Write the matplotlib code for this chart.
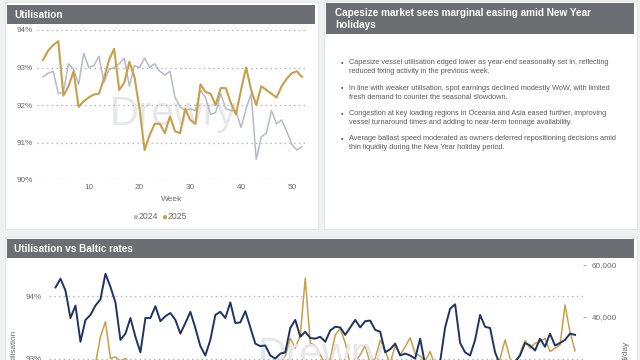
"""Capesize utilisation dashboard snapshot."""

import matplotlib

matplotlib.use("Agg")
import matplotlib.pyplot as plt
from matplotlib.patches import Rectangle
from matplotlib.ticker import FuncFormatter

W, H = 640, 360

# top-left panel: weekly utilisation (%)
weeks = list(range(1, 53))
util_2024 = [
    92.75, 92.85, 92.9, 92.3, 92.35, 93.1, 92.95, 92.55, 93.38, 93.0,
    93.05, 93.3, 92.6, 92.95, 93.0, 93.1, 93.25, 92.5, 93.05, 93.0,
    93.25, 93.0, 93.1, 92.9, 92.8, 92.9, 92.2, 91.95, 91.85, 91.9,
    91.85, 92.4, 92.2, 91.75, 91.8, 92.3, 91.9, 91.85, 91.85, 91.4,
    91.9, 92.3, 90.55, 91.15, 91.25, 91.85, 91.5, 91.6, 91.3, 90.95,
    90.8, 90.88,
]
util_2025 = [
    93.2, 93.45, 93.6, 93.7, 92.25, 92.5, 92.9, 91.95, 92.1, 92.2,
    92.28, 92.3, 92.7, 93.2, 93.5, 92.4, 92.6, 93.15, 92.75, 91.9,
    90.8, 91.2, 91.5, 91.5, 91.25, 91.7, 91.3, 91.25, 91.9, 91.6,
    91.5, 92.55, 92.35, 92.3, 92.0, 92.45, 92.45, 92.05, 91.75, 92.4,
    93.0, 92.4, 92.0, 92.5, 92.4, 92.3, 92.2, 92.5, 92.7, 92.85,
    92.9, 92.75,
]
util_ticks = [90, 91, 92, 93, 94]
week_ticks = [10, 20, 30, 40, 50]

# top-right panel: commentary
headline = "Capesize market sees marginal easing amid New Year\nholidays"
bullets = [
    "Capesize vessel utilisation edged lower as year-end seasonality set in, reflecting\n"
    "reduced fixing activity in the previous week.",
    "In line with weaker utilisation, spot earnings declined modestly WoW, with limited\n"
    "fresh demand to counter the seasonal slowdown.",
    "Congestion at key loading regions in Oceania and Asia eased further, improving\n"
    "vessel turnaround times and adding to near-term tonnage availability.",
    "Average ballast speed moderated as owners deferred repositioning decisions amid\n"
    "thin liquidity during the New Year holiday period.",
]

# bottom panel: utilisation (%) vs Baltic rates ($/day), one point per period
util_long = [
    94.14, 94.28, 94.09, 93.65, 93.85, 93.27, 93.62, 93.7, 93.85, 93.95,
    94.36, 94.15, 93.9, 93.3, 93.4, 93.65, 93.35, 93.1, 93.65, 93.65,
    93.84, 93.6, 93.68, 93.73, 93.62, 93.4, 93.57, 93.75, 93.49, 93.2,
    93.05, 93.3, 93.7, 93.75, 93.65, 93.9, 93.57, 93.58, 93.76, 93.5,
    93.24, 93.2, 93.21, 93.05, 93.0, 93.08, 93.1, 93.49, 93.62, 93.35,
    93.43, 93.33, 93.32, 93.35, 93.27, 93.45, 93.51, 93.5, 93.38, 93.5,
    93.62, 93.5, 93.6, 93.61, 93.46, 93.43, 93.1, 93.15, 93.24, 93.05,
    93.08, 93.05, 93.0, 93.32, 92.9, 92.85, 92.9, 92.95, 93.5, 93.8,
    93.87, 93.25, 93.1, 93.05, 93.3, 93.7, 93.51, 93.49, 93.1, 92.9,
    92.85, 92.9, 92.95, 93.05, 93.25, 93.21, 93.13, 93.32, 93.19, 93.4,
    93.21, 93.25, 93.3, 93.4, 93.38,
]
baltic_rate = [
    15000, 14000, 16000, 15000, 13000, 14000, 17000, 19000, 22000, 32400,
    38200, 24000, 24700, 23000, 24100, 22000, 20000, 18000, 16000, 14000,
    15000, 13000, 14000, 12000, 13000, 15000, 14000, 16000, 15000, 17000,
    16000, 18000, 17000, 19000, 18000, 20000, 19000, 21000, 20000, 22000,
    20000, 21000, 22000, 20000, 22000, 23000, 25000, 31800, 28000, 33000,
    54900, 30000, 29000, 25400, 22000, 24000, 33000, 35600, 30000, 22000,
    23000, 25400, 29000, 22000, 24000, 31000, 27000, 22000, 29200, 25400,
    28600, 32000, 26000, 25000, 23000, 26700, 21000, 19000, 20000, 18000,
    19000, 17000, 18000, 20000, 19000, 21000, 20000, 22000, 21000, 24000,
    31200, 24000, 21000, 26000, 31000, 28000, 29900, 30500, 31800, 26700,
    28000, 29200, 44600, 34300, 27000,
]
periods = list(range(len(util_long)))
util_long_ticks = [92, 93, 94]
rate_ticks = [20000, 40000, 60000]

GOLD = "#c6a04c"
GREY = "#b5bbc4"
NAVY = "#1e3462"
HEADER = "#6b6f73"
TEXT = "#6a6a6a"
GRID = dict(color="#b5b5b5", linestyle=(0, (1.2, 2.6)), linewidth=0.9)
FONT = ["Liberation Sans", "DejaVu Sans"]

plt.rcParams["font.family"] = FONT


def box(x0, y0, x1, y1):
    """Pixel box (top-left origin) to figure fractions."""
    return [x0 / W, 1 - y1 / H, (x1 - x0) / W, (y1 - y0) / H]


def panel(fig, x0, y0, x1, y1, hx0, hy0, hx1, hy1):
    l, b, w, h = box(x0, y0, x1, y1)
    fig.patches.append(Rectangle((l, b), w, h, transform=fig.transFigure,
                                 facecolor="white", edgecolor="#e2e4e7", linewidth=0.8, zorder=-3))
    l, b, w, h = box(hx0, hy0, hx1, hy1)
    fig.patches.append(Rectangle((l, b), w, h, transform=fig.transFigure,
                                 facecolor=HEADER, edgecolor="none", zorder=-2))


fig = plt.figure(figsize=(W / 100, H / 100), dpi=100, facecolor="#eff1f3")

panel(fig, 5, 2, 318, 229, 7, 5, 315, 24)
panel(fig, 324, 1, 637, 229, 326, 3, 634, 34)
panel(fig, 5, 237, 637, 380, 7, 239, 634, 258)

fig.text(14 / W, 1 - 14.5 / H, "Utilisation", color="white", fontsize=7.2,
         fontweight="bold", va="center")
fig.text(335 / W, 1 - 18.5 / H, headline, color="white", fontsize=7.2,
         fontweight="bold", va="center", linespacing=1.25)
fig.text(14 / W, 1 - 249 / H, "Utilisation vs Baltic rates", color="white", fontsize=7.2,
         fontweight="bold", va="center")

# commentary bullets
for i, item in enumerate(bullets):
    y = 63.5 + i * 25.3
    fig.text(341 / W, 1 - y / H, "\u2022", color="#555555", fontsize=5.2, va="center")
    fig.text(349 / W, 1 - (y - 4.2) / H, item, color="#5a5a5a", fontsize=5.3,
             va="top", linespacing=1.42)

# top-left chart
ax = fig.add_axes(box(37, 30, 307, 180))
ax.set_facecolor("none")
ax.text(0.27, 0.44, "Drewry", transform=ax.transAxes, fontsize=29, color="#e6e7e9",
        ha="left", va="center", zorder=0)
ax.plot(weeks, util_2024, color=GREY, linewidth=1.1, zorder=2)
ax.plot(weeks, util_2025, color=GOLD, linewidth=1.5, zorder=3)
ax.set_xlim(-0.2, 53)
ax.set_ylim(util_ticks[0], util_ticks[-1])
ax.set_yticks(util_ticks)
ax.yaxis.set_major_formatter(FuncFormatter(lambda v, _: f"{v:.0f}%"))
ax.set_xticks(week_ticks)
ax.tick_params(length=0, labelsize=5.9, labelcolor=TEXT, pad=3)
ax.grid(axis="y", **GRID)
for s in ax.spines.values():
    s.set_visible(False)
ax.set_xlabel("Week", fontsize=6, color=TEXT, labelpad=3.5)

fig.text(135 / W, 1 - 216.5 / H, "\u25cf", color=GREY, fontsize=7, va="center", ha="center")
fig.text(139 / W, 1 - 216.5 / H, "2024", color=TEXT, fontsize=6.2, va="center")
fig.text(164 / W, 1 - 216.5 / H, "\u25cf", color=GOLD, fontsize=7, va="center", ha="center")
fig.text(168 / W, 1 - 216.5 / H, "2025", color=TEXT, fontsize=6.2, va="center")

# bottom chart
axb = fig.add_axes(box(49, 265, 583, 421))
axb.set_facecolor("none")
axb.text(0.39, 0.42, "Drewry", transform=axb.transAxes, fontsize=29, color="#e6e7e9",
         ha="left", va="center", zorder=0)
axb.plot(periods, util_long, color=NAVY, linewidth=1.4, zorder=3)
axb.set_xlim(-1.3, len(periods) + 0.6)
axb.set_ylim(92, 94.5)
axb.set_yticks(util_long_ticks)
axb.yaxis.set_major_formatter(FuncFormatter(lambda v, _: f"{v:.0f}%"))
axb.set_xticks([])
axb.tick_params(length=0, labelsize=5.9, labelcolor=TEXT, pad=5)
axb.grid(axis="y", **GRID)
axb.set_ylabel("Utilisation", fontsize=5.9, color=TEXT)
axb.yaxis.set_label_coords(-0.06, 0.47)
for s in axb.spines.values():
    s.set_visible(False)

axr = axb.twinx()
axr.plot(periods, baltic_rate, color=GOLD, linewidth=1.1, zorder=2)
axr.set_ylim(0, 60000)
axr.set_yticks(rate_ticks)
axr.yaxis.set_major_formatter(FuncFormatter(lambda v, _: f"{v:,.0f}"))
axr.tick_params(length=2.5, width=0.6, color="#999999", labelsize=5.9, labelcolor=TEXT, pad=4)
axr.set_ylabel("$/day", fontsize=5.9, color=TEXT)
axr.yaxis.set_label_coords(1.075, 0.45)
for s in axr.spines.values():
    s.set_visible(False)
axb.set_zorder(axr.get_zorder() + 1)

fig.savefig("out.png", dpi=100, facecolor=fig.get_facecolor())
